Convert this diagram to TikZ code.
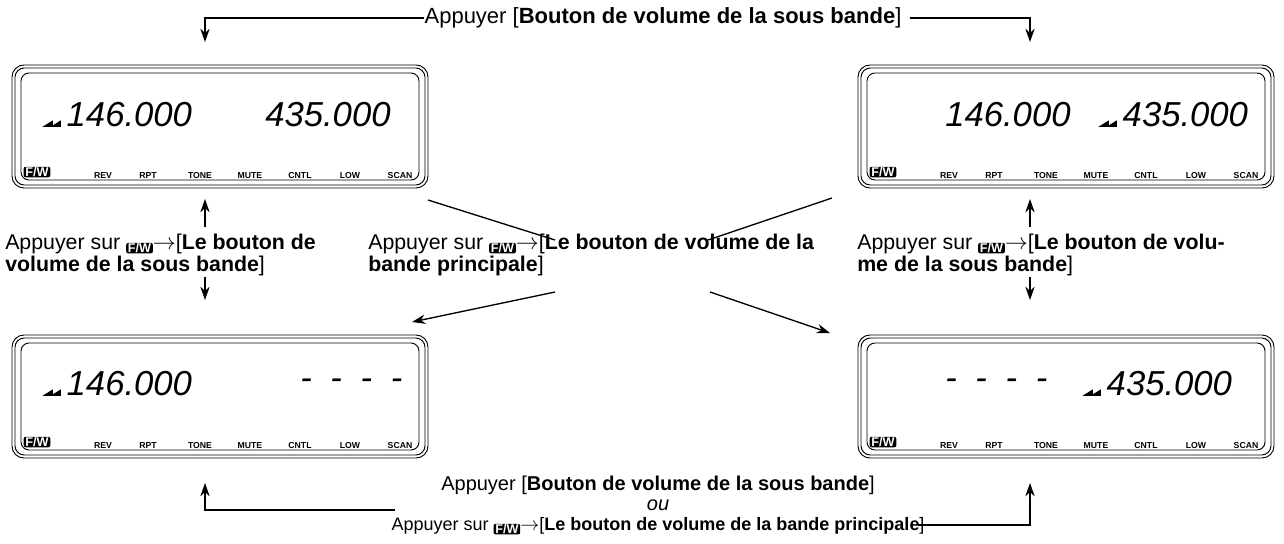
\documentclass[tikz,border=0pt]{standalone}
\usepackage{fontspec}
\setmainfont{Liberation Sans}
\usetikzlibrary{arrows.meta}
\newcommand{\fwicon}{\tikz[baseline=-0.1ex,x=1pt,y=1pt]\node[fill=black,text=white,rounded corners=1.5pt,inner xsep=1.3pt,inner ysep=0.4pt,font=\fontsize{9.5}{9.5}\selectfont\bfseries] {F/W};}
\newcommand{\sig}{\tikz[baseline=0pt,x=1pt,y=1pt]{\fill (0,0)--(8,5)--(8,0)--cycle;\fill (6,0)--(14,5)--(14,0)--cycle;}}
\tikzset{
 txt/.style={font=\fontsize{16}{13}\selectfont, align=left, inner sep=0pt},
 arr/.style={-{Stealth[length=10pt,width=7pt]}, line width=1pt},
 ln/.style={line width=1pt},
 lcd/.style={font=\fontsize{26}{26}\selectfont\itshape, inner sep=0pt},
 ind/.style={font=\fontsize{6.5}{7}\selectfont\bfseries, inner sep=0pt},
}
\newcommand{\dashes}{-\hspace{14pt}-\hspace{14pt}-\hspace{14pt}-}
\newcommand{\panel}[3]{% name, x, y (top-left outer)
 \draw[line width=0.7pt,rounded corners=9pt] (#2,#3) rectangle ++(416,123);
 \draw[line width=0.7pt,rounded corners=7pt] (#2+3,#3+3) rectangle ++(410,117);
 \draw[line width=0.7pt,rounded corners=6pt] (#2+9,#3+8) rectangle ++(398,107);
 \node[inner sep=0pt] (#1fw) at (#2+25,#3+107) {\fwicon};
 \foreach \t/\dx in {REV/91,RPT/136,TONE/188,MUTE/238,CNTL/288,LOW/338,SCAN/388}
   \node[ind] at (#2+\dx,#3+111) {\t};
}
\begin{document}
\begin{tikzpicture}[x=0.75pt,y=-0.75pt]
\useasboundingbox (0,0) rectangle (1284,543);
\panel{tl}{12}{65}
\panel{tr}{858}{65}
\panel{bl}{12}{335}
\panel{br}{858}{335}
\node[lcd,anchor=west] (tl1) at (42,115) {\sig\,146.000};
\node[lcd,anchor=west] (tl2) at (265,115) {435.000};
\node[lcd,anchor=west] (tr1) at (945,115) {146.000};
\node[lcd,anchor=west] (tr2) at (1098,115) {\sig\,435.000};
\node[lcd,anchor=west] (bl1) at (42,384) {\sig\,146.000};
\node[lcd,anchor=west] (bl2) at (300,384) {\dashes};
\node[lcd,anchor=west] (br1) at (945,384) {\dashes};
\node[lcd,anchor=west] (br2) at (1082,384) {\sig\,435.000};
\node[txt,anchor=center,font=\fontsize{16.5}{17}\selectfont] (top) at (663,18) {Appuyer [\textbf{Bouton de volume de la sous bande}]};
\coordinate (tA) at (205,42); \coordinate (tB) at (1030,42);
\draw[arr] (top.west) -- (205,18) -- (tA);
\draw[arr] ([xshift=6pt]top.east) -- (1030,18) -- (tB);
\node[txt,align=center,font=\fontsize{15}{15}\selectfont] (bot) at (658,505) {Appuyer [\textbf{Bouton de volume de la sous bande}]\\\textit{ou}\\{\fontsize{13.5}{15}\selectfont Appuyer sur \fwicon$\rightarrow$[\textbf{Le bouton de volume de la bande principale}]}};
\coordinate (bA) at (205,483); \coordinate (bB) at (1030,483);
\draw[arr] (395,510) -- (205,510) -- (bA);
\draw[arr] (918,525) -- (1030,525) -- (bB);
\node[txt,anchor=west] (lm) at (5,255) {Appuyer sur \fwicon$\rightarrow$[\textbf{Le bouton de}\\[1pt]\textbf{volume de la sous bande}]};
\draw[arr] (205,227) -- (205,199);
\draw[arr] (205,277) -- (205,300);
\node[txt,anchor=west] (rm) at (857,255) {Appuyer sur \fwicon$\rightarrow$[\textbf{Le bouton de volu-}\\[1pt]\textbf{me de la sous bande}]};
\draw[arr] (1030,227) -- (1030,199);
\draw[arr] (1030,277) -- (1030,300);
\node[txt,anchor=west] (cm) at (368,255) {Appuyer sur \fwicon$\rightarrow$[\textbf{Le bouton de volume de la}\\[1pt]\textbf{bande principale}]};
\draw[ln] (428,200) -- (555,240);
\draw[ln] (832,198) -- (708,240);
\draw[arr] (555,292) -- (412,322);
\draw[arr] (710,292) -- (830,333);
\end{tikzpicture}
\end{document}
